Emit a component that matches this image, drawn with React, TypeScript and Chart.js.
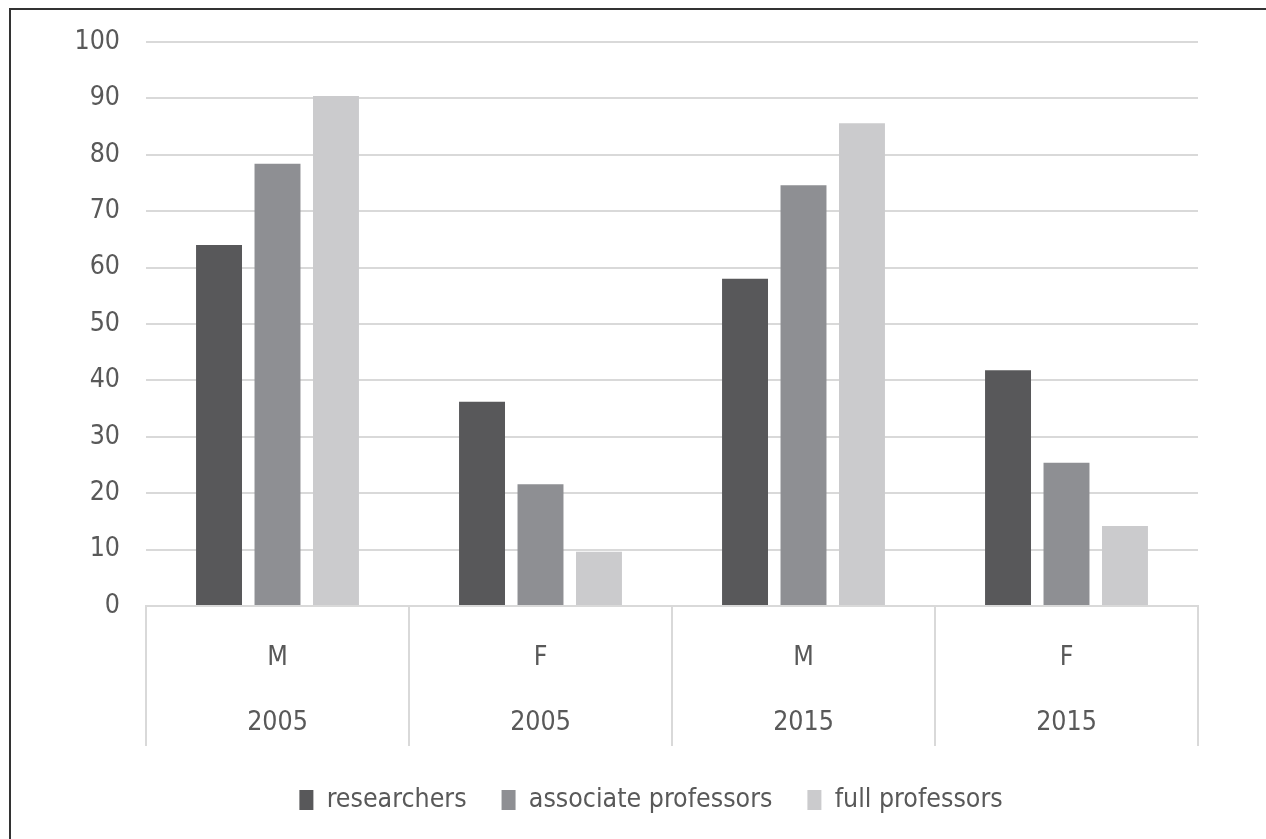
import React, { useEffect, useRef } from "react";
import { Chart, registerables } from "chart.js";

Chart.register(...registerables);

const genders = ["M", "F", "M", "F"];
const years = ["2005", "2005", "2015", "2015"];
const researchers = [64, 36.2, 58, 41.8];
const associateProfessors = [78.4, 21.6, 74.6, 25.4];
const fullProfessors = [90.4, 9.6, 85.6, 14.2];
const yTicks = [0, 10, 20, 30, 40, 50, 60, 70, 80, 90, 100];

const FONT = "'DejaVu Sans Condensed', 'Liberation Sans', sans-serif";
const TEXT = "#595959";
const GRID = "#d9d9d9";
const FS = 26.5;

export default function App() {
  const ref = useRef<HTMLCanvasElement | null>(null);

  useEffect(() => {
    if (!ref.current) return;
    const chart = new Chart(ref.current, {
      type: "bar",
      data: {
        labels: genders.map((g, i) => [g, years[i]]),
        datasets: [
          { label: "researchers", data: researchers, backgroundColor: "#58585a" },
          { label: "associate professors", data: associateProfessors, backgroundColor: "#8e8f93" },
          { label: "full professors", data: fullProfessors, backgroundColor: "#cbcbcd" },
        ],
      },
      options: {
        responsive: false,
        animation: false,
        devicePixelRatio: 1,
        layout: { padding: { left: 36, right: 0, top: 41, bottom: 15.75 } },
        datasets: { bar: { categoryPercentage: 0.667, barPercentage: 0.786 } },
        plugins: {
          tooltip: { enabled: false },
          legend: {
            position: "bottom",
            labels: {
              color: TEXT,
              font: { family: FONT, size: FS },
              boxWidth: 14,
              boxHeight: 20,
              padding: 35,
            },
          },
        },
        scales: {
          x: {
            offset: true,
            grid: {
              offset: true,
              drawOnChartArea: false,
              drawTicks: true,
              tickLength: 140,
              color: GRID,
              lineWidth: 2,
            },
            border: { display: true, color: GRID, width: 2 },
            ticks: {
              color: TEXT,
              font: { family: FONT, size: FS, lineHeight: 65 / FS },
              padding: -120,
              maxRotation: 0,
              autoSkip: false,
            },
            afterFit: (s: any) => {
              s.height = 145.75;
            },
          },
          y: {
            min: 0,
            max: 100,
            afterBuildTicks: (s: any) => {
              s.ticks = yTicks.map((v) => ({ value: v }));
            },
            grid: { color: GRID, lineWidth: 2, drawTicks: false },
            border: { display: false },
            ticks: {
              color: TEXT,
              font: { family: FONT, size: FS },
              padding: 26,
            },
            afterFit: (s: any) => {
              s.width = 110;
            },
          },
          spacer: {
            type: "linear",
            position: "right",
            display: true,
            grid: { display: false, drawTicks: false },
            border: { display: false },
            ticks: { display: false },
            afterFit: (s: any) => {
              s.width = 68;
            },
          },
        },
      },
    });
    return () => chart.destroy();
  }, []);

  return (
    <div
      style={{
        position: "fixed",
        left: 0,
        top: 0,
        width: 1266,
        height: 839,
        overflow: "hidden",
        background: "#fff",
      }}
    >
      <div
        style={{
          position: "absolute",
          left: 9,
          top: 8,
          width: 1266,
          height: 839,
          borderLeft: "2px solid #333",
          borderTop: "2px solid #333",
          boxSizing: "border-box",
        }}
      />
      <canvas
        ref={ref}
        width={1266}
        height={839}
        style={{ position: "absolute", left: 0, top: 0, display: "block" }}
      />
    </div>
  );
}
